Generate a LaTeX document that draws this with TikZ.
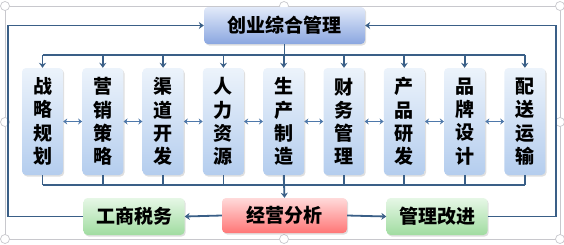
\documentclass[tikz,border=0pt]{standalone}
\usepackage{fontspec}
\newfontfamily\cjk{Noto Sans CJK SC}
\usepackage{xcolor}
\usepackage{tikz}
\usetikzlibrary{positioning, arrows.meta, shadows, calc}

\definecolor{linkblue}{RGB}{58,95,135}
\definecolor{swapblue}{RGB}{78,120,170}
\definecolor{colTop}{RGB}{236,243,251}
\definecolor{colBot}{RGB}{180,205,238}
\definecolor{headTop}{RGB}{226,234,249}
\definecolor{headBot}{RGB}{138,166,224}
\definecolor{redTop}{RGB}{255,218,218}
\definecolor{redBot}{RGB}{255,118,118}
\definecolor{greenTop}{RGB}{230,247,230}
\definecolor{greenBot}{RGB}{160,220,160}
\definecolor{frameGray}{RGB}{200,200,205}

\begin{document}
\begin{tikzpicture}[x=1pt, y=-1pt,
    boxbase/.style={rounded corners=4pt, inner sep=0pt,
        drop shadow={opacity=0.25, shadow xshift=1.2pt, shadow yshift=-1.5pt},
        font=\cjk\bfseries\fontsize{19}{23.3}\selectfont},
    headbox/.style={boxbase, top color=headTop, bottom color=headBot,
        minimum width=161pt, minimum height=37pt},
    colbox/.style={boxbase, top color=colTop, bottom color=colBot,
        minimum width=41pt, minimum height=107pt, align=center},
    redbox/.style={boxbase, top color=redTop, bottom color=redBot,
        minimum width=125pt, minimum height=35pt},
    greenbox/.style={boxbase, top color=greenTop, bottom color=greenBot,
        minimum width=101pt, minimum height=37pt},
    link/.style={draw=linkblue, line width=1.8pt},
    arrow/.style={link, -{Stealth[length=5pt, width=7pt]}},
    swap/.style={draw=swapblue, line width=1.5pt,
        {Stealth[length=4pt, width=6pt]}-{Stealth[length=4pt, width=6pt]}},
    handle/.style={circle, draw=frameGray, fill=white, line width=0.7pt,
        minimum size=9pt, inner sep=0pt}
]
\useasboundingbox (0,0) rectangle (564,244);

% Selection frame of the screenshot
\draw[frameGray, line width=0.7pt] (5,6) rectangle (560,239);
\foreach \hx/\hy [count=\k] in {5/6, 284/6, 560/6, 5/122, 560/122, 5/239, 284/239, 560/239}
    \node[handle] (h\k) at (\hx,\hy) {};

% Head
\node[headbox] (top) at (284.5,25.5) {创业综合管理};

% Departments
\foreach \txt [count=\i] in {战\\略\\规\\划, 营\\销\\策\\略, 渠\\道\\开\\发,
    人\\力\\资\\源, 生\\产\\制\\造, 财\\务\\管\\理, 产\\品\\研\\发,
    品\\牌\\设\\计, 配\\送\\运\\输}
    \node[colbox] (b\i) at ({42.5+60.3*(\i-1)},121.5) {\txt};

% Bottom row
\node[redbox] (ana) at (284.5,215.5) {经营分析};
\node[greenbox] (tax) at (134,216.5) {工商税务};
\node[greenbox] (imp) at (437,216.5) {管理改进};

% Bus lines
\coordinate (topbus) at (0,55);
\coordinate (botbus) at (0,185);
\coordinate (lcorner) at (8,25.5);
\coordinate (rcorner) at (556,25.5);

% Head to departments
\draw[link] (top.south) -- (top.south |- topbus);
\draw[link] (b1.north |- topbus) -- (b9.north |- topbus);
\foreach \i in {1,...,9}
    \draw[arrow] (b\i.north |- topbus) -- (b\i.north);

% Departments to analysis
\foreach \i in {1,...,9}
    \draw[link] (b\i.south) -- (b\i.south |- botbus);
\draw[link] (b1.south |- botbus) -- (b9.south |- botbus);
\draw[arrow] (b5.south) -- (ana.north);

% Between departments
\foreach \i [evaluate=\i as \j using int(\i+1)] in {1,...,8}
    \draw[swap] (b\i.east) -- (b\j.west);

% Feedback loops
\draw[arrow] (ana.west) -- (tax.east);
\draw[arrow] (ana.east) -- (imp.west);
\draw[arrow] (tax.west) -| (lcorner) -- (top.west);
\draw[arrow] (imp.east) -| (rcorner) -- (top.east);

\end{tikzpicture}
\end{document}
